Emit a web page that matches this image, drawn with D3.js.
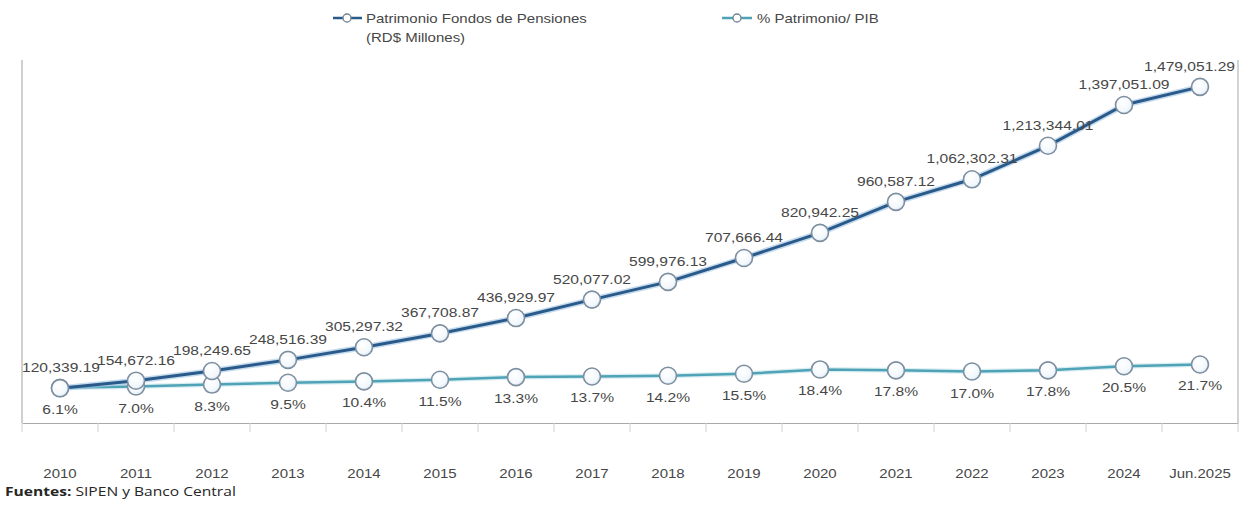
<!DOCTYPE html>
<html>
<head>
<meta charset="utf-8">
<script src="https://cdn.jsdelivr.net/npm/d3@7"></script>
<style>
  html, body { margin: 0; padding: 0; background: #ffffff; }
  svg { display: block; }
</style>
</head>
<body>
<svg id="chart" width="1245" height="507"></svg>
<script>
// Categories (years) and series values
const categories = ["2010","2011","2012","2013","2014","2015","2016","2017","2018","2019","2020","2021","2022","2023","2024","Jun.2025"];
const patrimonio = [120339.19,154672.16,198249.65,248516.39,305297.32,367708.87,436929.97,520077.02,599976.13,707666.44,820942.25,960587.12,1062302.31,1213344.01,1397051.09,1479051.29];
const pctPIB = [6.1,7.0,8.3,9.5,10.4,11.5,13.3,13.7,14.2,15.5,18.4,17.8,17.0,17.8,20.5,21.7];
const legendLabels = ["Patrimonio Fondos de Pensiones", "(RD$ Millones)", "% Patrimonio/ PIB"];
const sourceBold = "Fuentes:";
const sourceText = " SIPEN y Banco Central";

const svg = d3.select("#chart");
const font = "'Liberation Sans', Arial, sans-serif";
const SX = 1.2; // horizontal stretch of text glyphs
const textColor = "#474747";
const darkColor = "#2a5a8a";
const lightColor = "#4fa3b6";

const plot = { left: 22, right: 1238, top: 60, bottom: 423 };

const x = d3.scaleBand().domain(categories).range([plot.left, plot.right]);
const cx = d => x(d) + x.bandwidth() / 2;
const yL = d3.scaleLinear().domain([0, 1600000]).range([415, 60]);
const yR = d3.scaleLinear().domain([0, 225]).range([397, 60]);

// stretched text helper
function label(g, str, px, py, size, anchor, weight) {
  const t = g.append("text")
    .attr("transform", `translate(${px},${py}) scale(${SX},1)`)
    .attr("font-family", font)
    .attr("font-size", size)
    .attr("fill", textColor)
    .attr("text-anchor", anchor || "middle");
  if (weight) t.attr("font-weight", weight);
  t.text(str);
  return t;
}

// gradient for markers
const defs = svg.append("defs");
const grad = defs.append("radialGradient").attr("id", "mk").attr("cx", "40%").attr("cy", "35%").attr("r", "70%");
grad.append("stop").attr("offset", "0%").attr("stop-color", "#ffffff");
grad.append("stop").attr("offset", "70%").attr("stop-color", "#f3f8fc");
grad.append("stop").attr("offset", "100%").attr("stop-color", "#d6e6f2");

// frame: left and right lines
const frame = svg.append("g");
frame.append("line").attr("x1", plot.left).attr("x2", plot.left).attr("y1", plot.top).attr("y2", plot.bottom)
  .attr("stroke", "#b0b0b0").attr("stroke-width", 1.2);
frame.append("line").attr("x1", plot.right).attr("x2", plot.right).attr("y1", plot.top).attr("y2", plot.bottom)
  .attr("stroke", "#b8b8b8").attr("stroke-width", 1.2);

// bottom axis with category ticks between bands
const xAxis = d3.axisBottom(x).tickSize(0).tickFormat("");
const axG = svg.append("g").attr("transform", `translate(0,${plot.bottom})`).call(xAxis);
axG.select(".domain").attr("stroke", "#a8a8a8").attr("stroke-width", 1.2);
const bounds = categories.map(c => x(c)).concat([plot.right]);
axG.selectAll("line.tk").data(bounds).enter().append("line").attr("class", "tk")
  .attr("x1", d => d).attr("x2", d => d).attr("y1", 0).attr("y2", 9)
  .attr("stroke", "#d0d0d0").attr("stroke-width", 1);

// category labels
const catG = svg.append("g");
categories.forEach(c => label(catG, c, cx(c), 478, 12.5));

// lines
const lineL = d3.line().x((d, i) => cx(categories[i])).y(d => yL(d));
const lineR = d3.line().x((d, i) => cx(categories[i])).y(d => yR(d));

svg.append("path").attr("d", lineR(pctPIB)).attr("fill", "none").attr("stroke", "#bfe1ea").attr("stroke-width", 5).attr("opacity", 0.6);
svg.append("path").attr("d", lineR(pctPIB)).attr("fill", "none").attr("stroke", lightColor).attr("stroke-width", 2.5);

svg.append("path").attr("d", lineL(patrimonio)).attr("fill", "none").attr("stroke", "#9fc3e2").attr("stroke-width", 6).attr("opacity", 0.6);
svg.append("path").attr("d", lineL(patrimonio)).attr("fill", "none").attr("stroke", darkColor).attr("stroke-width", 3);

// markers
function markers(data, yS) {
  svg.append("g").selectAll("circle").data(data).enter().append("circle")
    .attr("cx", (d, i) => cx(categories[i]))
    .attr("cy", d => yS(d))
    .attr("r", 8.5)
    .attr("fill", "url(#mk)")
    .attr("stroke", "#7d8e9f")
    .attr("stroke-width", 1.6);
}
markers(pctPIB, yR);
markers(patrimonio, yL);

// data labels, kept inside the plot frame
const fmt = d3.format(",.2f");
const lblG = svg.append("g");
patrimonio.forEach((v, i) => {
  const str = fmt(v);
  let px = cx(categories[i]);
  const py = yL(v) - 16;
  const t = label(lblG, str, px, py, 13);
  const halfW = t.node().getBBox().width * SX / 2;
  if (px - halfW < plot.left) px = plot.left + halfW;
  if (px + halfW > plot.right - 3) px = plot.right - 3 - halfW;
  t.attr("transform", `translate(${px},${py}) scale(${SX},1)`);
});
pctPIB.forEach((v, i) => {
  label(lblG, v.toFixed(1) + "%", cx(categories[i]), yR(v) + 26, 13);
});

// legend
const lg = svg.append("g");
lg.append("line").attr("x1", 333).attr("x2", 362).attr("y1", 18).attr("y2", 18).attr("stroke", darkColor).attr("stroke-width", 2.5);
lg.append("circle").attr("cx", 347).attr("cy", 18).attr("r", 4).attr("fill", "#fff").attr("stroke", "#6f8294").attr("stroke-width", 1.3);
label(lg, legendLabels[0], 366, 22.5, 12.5, "start");
label(lg, legendLabels[1], 366, 41.5, 12.5, "start");
lg.append("line").attr("x1", 722).attr("x2", 752).attr("y1", 18).attr("y2", 18).attr("stroke", lightColor).attr("stroke-width", 2.5);
lg.append("circle").attr("cx", 737).attr("cy", 18).attr("r", 4).attr("fill", "#fff").attr("stroke", "#6f8294").attr("stroke-width", 1.3);
label(lg, legendLabels[2], 757, 22.5, 12.5, "start");

// source note
const src = svg.append("text")
  .attr("transform", "translate(5,496) scale(1.2,1)")
  .attr("font-family", "'Open Sans', 'Noto Sans', sans-serif")
  .attr("font-size", 13)
  .attr("fill", "#262626");
src.append("tspan").attr("font-weight", "bold").text(sourceBold);
src.append("tspan").text(sourceText);
</script>
</body>
</html>
